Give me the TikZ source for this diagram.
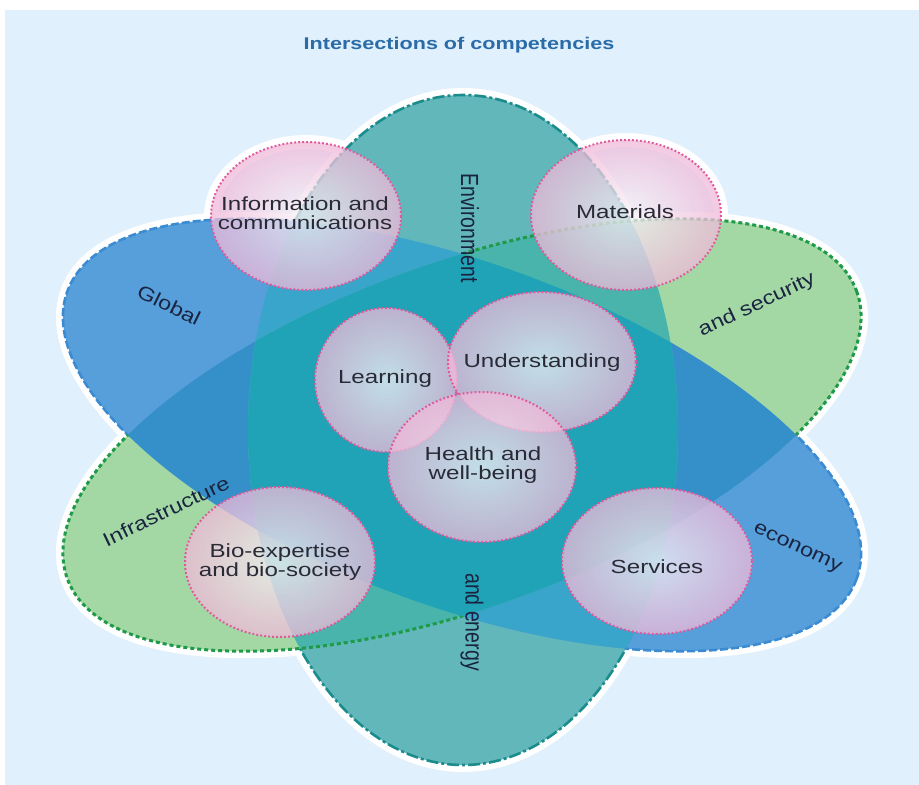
\documentclass[tikz,border=0pt]{standalone}
\usepackage{fontspec}
\setmainfont{Liberation Sans}
\definecolor{bgblue}{HTML}{E0F0FC}
\definecolor{tealV}{HTML}{62B7BB}
\definecolor{greenG}{HTML}{A3D8A5}
\definecolor{blueB}{HTML}{569FDA}
\definecolor{bgmix}{HTML}{3590C9}
\definecolor{vbmix}{HTML}{3AA5CA}
\definecolor{vgmix}{HTML}{48B4AC}
\definecolor{vbgmix}{HTML}{21A3B7}
\definecolor{tealline}{HTML}{1B8C8C}
\definecolor{blueline}{HTML}{3B8BD2}
\definecolor{greenline}{HTML}{1E9A48}
\definecolor{pinkin}{HTML}{F8F3F8}
\definecolor{pinkout}{HTML}{F0B8D8}
\definecolor{pinkdot}{HTML}{E0579A}
\definecolor{labtext}{HTML}{2A2A36}
\definecolor{sidetext}{HTML}{1A2440}
\definecolor{titleblue}{HTML}{2B6CA8}
\def\pathV{(463,430) ellipse [x radius=215, y radius=335]}
\def\pathB{(462,435) ellipse [x radius=420, y radius=172, rotate=-20]}
\def\pathG{(462,435) ellipse [x radius=420, y radius=172, rotate=20]}
\def\cInfo{(306,216) ellipse [x radius=95, y radius=74]}
\def\cMat{(626,215) ellipse [x radius=95, y radius=75]}
\def\cBio{(280,562) ellipse [x radius=95, y radius=75]}
\def\cServ{(657,561) ellipse [x radius=95, y radius=73]}
\def\cLearn{(386,380) ellipse [x radius=71, y radius=72]}
\def\cUnder{(542,362) ellipse [x radius=94, y radius=70]}
\def\cHealth{(482,467) ellipse [x radius=94, y radius=75]}
\def\bigrect{(-20,-20) rectangle (940,810)}
\begin{document}
\begin{tikzpicture}[x=1pt,y=-1pt,
  halo/.style={draw=white, line width=14},
  pinkfill/.style={inner color=pinkin, outer color=pinkout, fill opacity=0.75},
  pinkline/.style={draw=pinkdot, line width=2, dash pattern=on 1.8pt off 2.2pt},
  tealdash/.style={draw=tealline, line width=2.6, dash pattern=on 12pt off 3pt on 3pt off 3pt},
  bluedash/.style={draw=blueline, line width=2.6, dash pattern=on 8pt off 3pt},
  greendot/.style={draw=greenline, line width=3, dash pattern=on 4pt off 3pt},
  lab/.style={font=\fontsize{19}{19}\selectfont, text=labtext, align=center, inner sep=0, xscale=1.27},
  sidelab/.style={font=\fontsize{19.5}{20}\selectfont, text=sidetext, inner sep=0}]
\useasboundingbox (0,0) rectangle (919,785);
\fill[white] (-10,-10) rectangle (930,800);
\fill[bgblue] (5,10) rectangle (930,800);
% white halo
\draw[halo] \pathV; \draw[halo] \pathB; \draw[halo] \pathG;
\draw[halo] \cInfo; \draw[halo] \cMat; \draw[halo] \cBio; \draw[halo] \cServ;
% fills
\fill[tealV] \pathV;
\fill[greenG] \pathG;
\fill[blueB] \pathB;
\begin{scope}\clip \pathG; \fill[bgmix] \pathB; \end{scope}
\begin{scope}\clip \pathV; \fill[vbmix] \pathB; \fill[vgmix] \pathG;
  \clip \pathG; \fill[vbgmix] \pathB; \end{scope}
% outlines
\begin{scope}[even odd rule]
  \clip \bigrect \pathB;
  \clip \bigrect \pathG;
  \draw[tealdash] \pathV;
\end{scope}
\begin{scope}[even odd rule]
  \clip \bigrect \pathG;
  \clip \bigrect \pathV;
  \draw[bluedash] \pathB;
\end{scope}
\begin{scope}[even odd rule]
  \clip \bigrect \pathB;
  \draw[greendot] \pathG;
\end{scope}
% pink circles
\shade[pinkfill] \cInfo; \draw[pinkline] \cInfo;
\shade[pinkfill] \cMat; \draw[pinkline] \cMat;
\shade[pinkfill] \cBio; \draw[pinkline] \cBio;
\shade[pinkfill] \cServ; \draw[pinkline] \cServ;
\shade[pinkfill] \cLearn; \draw[pinkline] \cLearn;
\shade[pinkfill] \cUnder; \draw[pinkline] \cUnder;
\shade[pinkfill] \cHealth; \draw[pinkline] \cHealth;
% texts
\node[font=\bfseries\fontsize{17}{17}\selectfont, text=titleblue, xscale=1.27] (title) at (459,45) {Intersections of competencies};
\node[lab] (info) at (305,213) {Information and\\communications};
\node[lab] (materials) at (625,212) {Materials};
\node[lab] (learning) at (385,379) {Learning};
\node[lab] (understanding) at (542,363) {Understanding};
\node[lab] (health) at (483,465) {Health and\\well-being};
\node[lab] (bio) at (280,562) {Bio-expertise\\and bio-society};
\node[lab] (services) at (657,567) {Services};
\node[sidelab, rotate=-26, xscale=1.2] (global) at (169,305) {Global};
\node[sidelab, rotate=25.7, xscale=1.2] (infra) at (166,511) {Infrastructure};
\node[sidelab, rotate=25, xscale=1.2] (security) at (757,305) {and security};
\node[sidelab, rotate=-25, xscale=1.2] (economy) at (797,549) {economy};
\node[sidelab, xscale=1.27, rotate=-90] (env) at (470,228) {Environment};
\node[sidelab, xscale=1.27, rotate=-90] (energy) at (472,622) {and energy};
\end{tikzpicture}
\end{document}
